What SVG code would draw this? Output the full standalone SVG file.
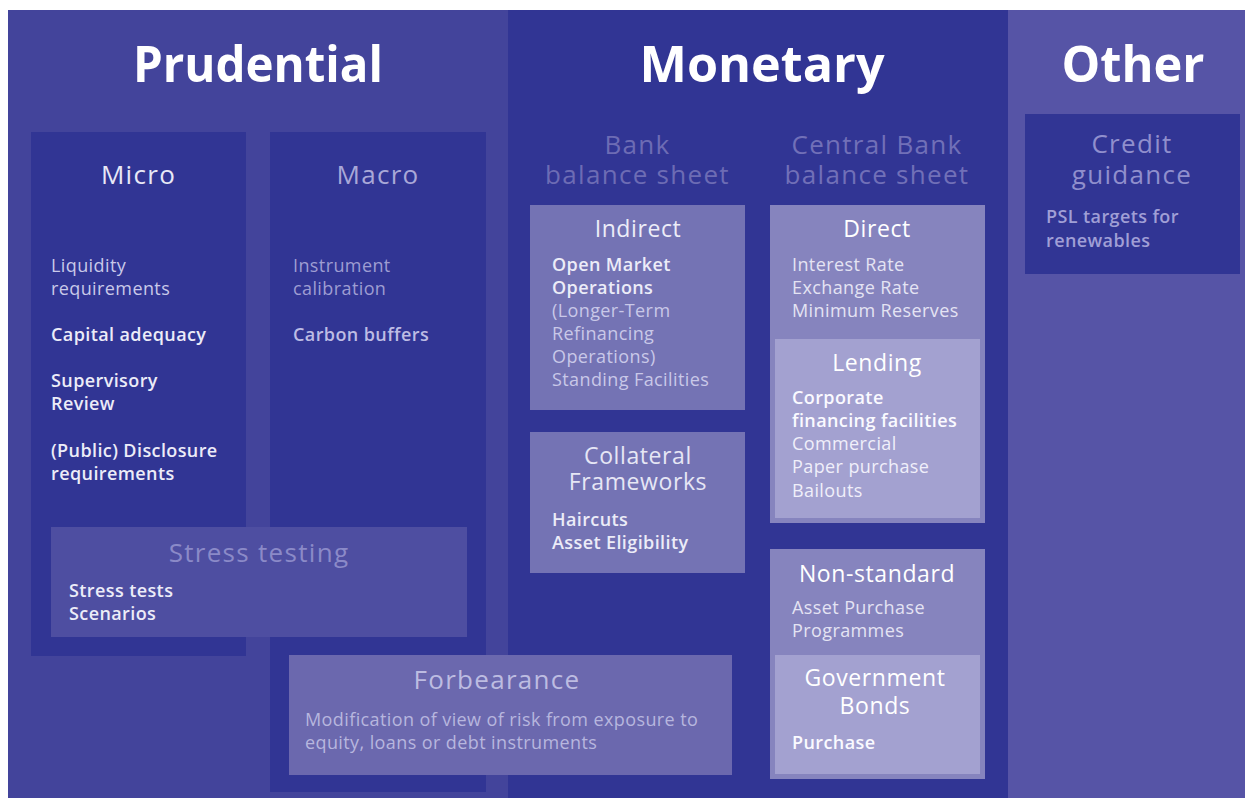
<svg xmlns="http://www.w3.org/2000/svg" width="1245" height="798" viewBox="0 0 1245 798">
<style>
text{font-family:"Open Sans","Noto Sans","Liberation Sans",sans-serif}
.h1{font-size:50px;font-weight:700;fill:#ffffff;text-anchor:middle}
.h2{font-size:26px;font-weight:400;letter-spacing:1.3px;text-anchor:middle}
.h3{font-size:23px;font-weight:400;letter-spacing:0.6px;text-anchor:middle}
.t{font-size:18px;font-weight:400;letter-spacing:0.4px}
.b{font-size:18px;font-weight:600;letter-spacing:0.4px}
</style>
<rect width="1245" height="798" fill="#ffffff"/>
<g id="panels">
<rect x="8" y="10" width="500" height="788" fill="#43449b"/>
<rect x="508" y="10" width="500" height="788" fill="#313594"/>
<rect x="1008" y="10" width="237" height="788" fill="#5654a6"/>
<text class="h1" x="258" y="82" textLength="250" lengthAdjust="spacingAndGlyphs">Prudential</text>
<text class="h1" x="762" y="82" textLength="245" lengthAdjust="spacingAndGlyphs">Monetary</text>
<text class="h1" x="1133" y="82" textLength="143" lengthAdjust="spacingAndGlyphs">Other</text>
</g>
<g id="micro">
<rect x="31" y="132" width="215" height="524" fill="#313594"/>
<text class="h2" x="138.5" y="184" fill="#e8e8f6">Micro</text>
<text class="t" fill="#c9c9e9"><tspan x="51" y="272">Liquidity</tspan><tspan x="51" y="295">requirements</tspan></text>
<text class="b" x="51" y="341" fill="#ececf8">Capital adequacy</text>
<text class="b" fill="#ececf8"><tspan x="51" y="387">Supervisory</tspan><tspan x="51" y="410">Review</tspan></text>
<text class="b" fill="#ececf8"><tspan x="51" y="457">(Public) Disclosure</tspan><tspan x="51" y="480">requirements</tspan></text>
</g>
<g id="macro">
<rect x="270" y="132" width="216" height="660" fill="#313594"/>
<text class="h2" x="378" y="184" fill="#a9a8d8">Macro</text>
<text class="t" fill="#9e9dd2"><tspan x="293" y="272">Instrument</tspan><tspan x="293" y="295">calibration</tspan></text>
<text class="b" x="293" y="341" fill="#bdbce4">Carbon buffers</text>
</g>
<g id="stress-testing">
<rect x="51" y="527" width="416" height="110" fill="#4e4ea1"/>
<text class="h2" x="259" y="562" fill="#8b8ac8">Stress testing</text>
<text class="b" fill="#ececf8"><tspan x="69" y="597">Stress tests</tspan><tspan x="69" y="620">Scenarios</tspan></text>
</g>
<g id="forbearance">
<rect x="289" y="655" width="443" height="120" fill="#6b68ae"/>
<text class="h2" x="497" y="689" fill="#bdbce1">Forbearance</text>
<text class="t" fill="#b7b6de"><tspan x="305" y="726">Modification of view of risk from exposure to</tspan><tspan x="305" y="749">equity, loans or debt instruments</tspan></text>
</g>
<g id="bank-balance-sheet">
<text class="h2" fill="#6d6cb4"><tspan x="637.5" y="154">Bank</tspan><tspan x="637.5" y="184">balance sheet</tspan></text>
</g>
<g id="central-bank-balance-sheet">
<text class="h2" fill="#7170b8"><tspan x="877" y="154">Central Bank</tspan><tspan x="877" y="184">balance sheet</tspan></text>
</g>
<g id="indirect">
<rect x="530" y="205" width="215" height="205" fill="#7473b4"/>
<text class="h3" x="638" y="237" fill="#ededf8">Indirect</text>
<text class="b" fill="#ececf8"><tspan x="552" y="271">Open Market</tspan><tspan x="552" y="294">Operations</tspan></text>
<text class="t" fill="#c9c8e8"><tspan x="552" y="317">(Longer-Term</tspan><tspan x="552" y="340">Refinancing</tspan><tspan x="552" y="363">Operations)</tspan><tspan x="552" y="386">Standing Facilities</tspan></text>
</g>
<g id="collateral-frameworks">
<rect x="530" y="432" width="215" height="141" fill="#7473b4"/>
<text class="h3" fill="#e6e6f5"><tspan x="638" y="464">Collateral</tspan><tspan x="638" y="490">Frameworks</tspan></text>
<text class="b" fill="#ececf8"><tspan x="552" y="526">Haircuts</tspan><tspan x="552" y="549">Asset Eligibility</tspan></text>
</g>
<g id="direct">
<rect x="770" y="205" width="215" height="318" fill="#8684be"/>
<text class="h3" x="877" y="237" fill="#ffffff">Direct</text>
<text class="t" fill="#e4e3f3"><tspan x="792" y="271">Interest Rate</tspan><tspan x="792" y="294">Exchange Rate</tspan><tspan x="792" y="317">Minimum Reserves</tspan></text>
</g>
<g id="lending">
<rect x="775" y="339" width="205" height="179" fill="#a3a1d0"/>
<text class="h3" x="877" y="371" fill="#ffffff">Lending</text>
<text class="b" fill="#fafaff"><tspan x="792" y="404">Corporate</tspan><tspan x="792" y="427">financing facilities</tspan></text>
<text class="t" fill="#f0effa"><tspan x="792" y="450">Commercial</tspan><tspan x="792" y="473">Paper purchase</tspan><tspan x="792" y="497">Bailouts</tspan></text>
</g>
<g id="non-standard">
<rect x="770" y="549" width="215" height="230" fill="#8684be"/>
<text class="h3" x="877" y="582" fill="#ffffff">Non-standard</text>
<text class="t" fill="#e4e3f3"><tspan x="792" y="614">Asset Purchase</tspan><tspan x="792" y="637">Programmes</tspan></text>
</g>
<g id="government-bonds">
<rect x="775" y="655" width="205" height="119" fill="#a3a1d0"/>
<text class="h3" fill="#ffffff"><tspan x="875" y="686">Government</tspan><tspan x="875" y="714">Bonds</tspan></text>
<text class="b" x="792" y="749" fill="#fafaff">Purchase</text>
</g>
<g id="credit-guidance">
<rect x="1025" y="114" width="215" height="160" fill="#313594"/>
<text class="h2" fill="#908fcd"><tspan x="1132" y="153">Credit</tspan><tspan x="1132" y="184">guidance</tspan></text>
<text class="b" fill="#a09fd6"><tspan x="1046" y="223">PSL targets for</tspan><tspan x="1046" y="247">renewables</tspan></text>
</g>
<g id="connectors"/>
</svg>
